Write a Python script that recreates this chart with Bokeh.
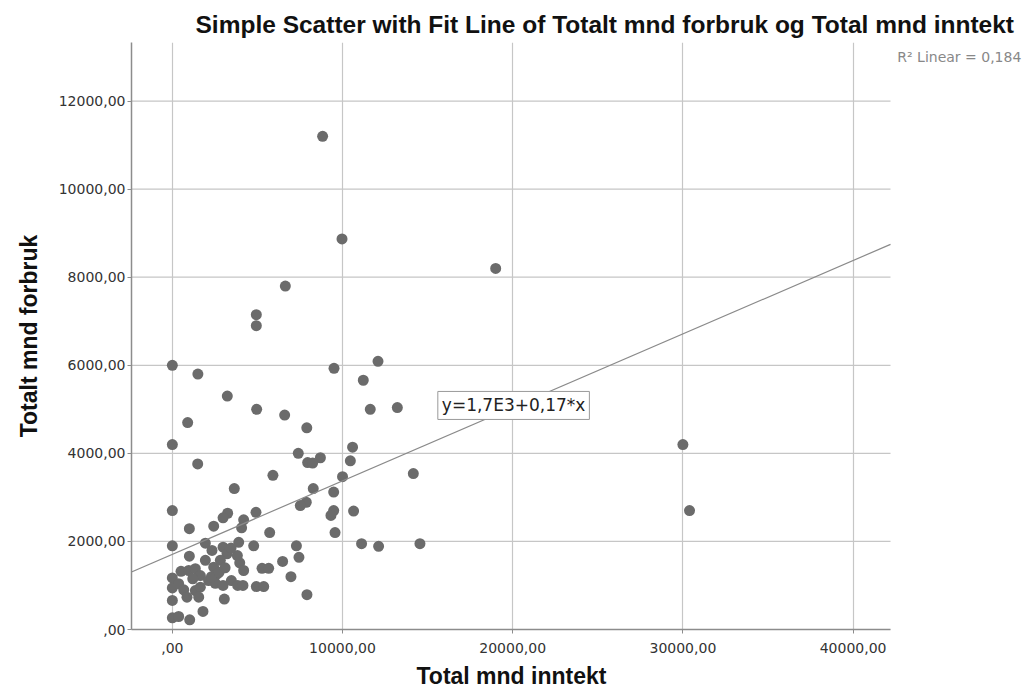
from bokeh.plotting import figure
from bokeh.models import Range1d, FixedTicker, Label, ColumnDataSource, Title
from bokeh.embed import file_html
from bokeh.resources import INLINE

# Total mnd inntekt (x) and Totalt mnd forbruk (y)
income = [8830, 9970, 19000, 6640, 4935, 4935, 0, 12085, 9500, 1500,
          11220, 3230, 4955, 11630, 13220, 6600, 900, 7900, 0, 30000,
          10590, 7400, 8700, 7950, 8245, 10460, 1490, 14160, 5910, 10000,
          3640, 8280, 9480, 7870, 7520, 0, 30390, 10650, 9480, 9320,
          4915, 3250, 2980, 4190, 4070, 2430, 1000, 9560, 5720, 11120,
          12120, 14550, 7290, 0, 1940, 2330, 2980, 3210, 3900, 4780,
          1000, 7440, 1940, 2430, 2820, 3960, 4190, 5270, 5660, 6480,
          6970, 7910, 510, 960, 1350, 0, 1645, 2130, 2525, 2980,
          3470, 3840, 4150, 4935, 5370, 0, 370, 670, 860, 1350,
          1645, 0, 1550, 3055, 1800, 0, 370, 1020, 2600, 2300,
          3820, 3450, 2750, 1200, 3100]
spend = [11200, 8870, 8200, 7800, 7150, 6900, 6000, 6090, 5930, 5800,
         5660, 5300, 5000, 5000, 5040, 4870, 4700, 4580, 4200, 4200,
         4140, 4000, 3900, 3790, 3780, 3830, 3760, 3540, 3500, 3470,
         3200, 3200, 3120, 2890, 2815, 2700, 2700, 2690, 2700, 2590,
         2660, 2640, 2535, 2490, 2310, 2345, 2290, 2200, 2200, 1950,
         1890, 1950, 1900, 1900, 1960, 1795, 1870, 1720, 1980, 1900,
         1665, 1640, 1570, 1415, 1570, 1515, 1340, 1390, 1390, 1545,
         1200, 790, 1320, 1340, 1380, 1170, 1225, 1110, 1050, 1000,
         1110, 1000, 1000, 975, 975, 945, 1040, 900, 735, 885,
         960, 660, 735, 690, 410, 265, 295, 220, 1250, 1200,
         1680, 1850, 1300, 1150, 1400]

x_ticks = [0, 10000, 20000, 30000, 40000]
x_tick_labels = [",00", "10000,00", "20000,00", "30000,00", "40000,00"]
y_ticks = [0, 2000, 4000, 6000, 8000, 10000, 12000]
y_tick_labels = [",00", "2000,00", "4000,00", "6000,00", "8000,00", "10000,00", "12000,00"]

fit_intercept = 1707
fit_slope = 0.1668
fit_text = "y=1,7E3+0,17*x"
r2_text = "R\u00b2 Linear = 0,184"
title_text = "Simple Scatter with Fit Line of Totalt mnd forbruk og Total mnd inntekt"
x_title = "Total mnd inntekt"
y_title = "Totalt mnd forbruk"

X_MIN, X_MAX = -2400, 42200          # extent of the plotted area
X_CANVAS_MAX = 50485                 # canvas continues to the right for the R² note
Y_MIN, Y_MAX = 0, 13330

p = figure(width=1031, height=696, output_backend="svg", toolbar_location=None,
           x_range=Range1d(X_MIN, X_CANVAS_MAX), y_range=Range1d(Y_MIN, Y_MAX),
           min_border_left=131, min_border_right=0, min_border_top=42,
           min_border_bottom=67)
p.outline_line_color = None
p.background_fill_color = "white"
p.border_fill_color = "white"

BOLD_FONT = "Liberation Sans"
p.title.text = title_text
p.title.text_font = BOLD_FONT
p.title.text_font_size = "24.5px"
p.title.text_font_style = "bold"
p.title.text_color = "#111111"
p.title.align = "left"
p.title.offset = 64

for ax in (p.xaxis[0], p.yaxis[0]):
    ax.axis_line_color = "#8c8c8c"
    ax.axis_line_width = 1.5
    ax.major_tick_line_color = "#8c8c8c"
    ax.major_tick_out = 4
    ax.major_tick_in = 0
    ax.minor_tick_line_color = None
    ax.major_label_text_font = "DejaVu Sans"
    ax.major_label_text_font_size = "14px"
    ax.major_label_text_color = "#333333"

p.xaxis[0].ticker = FixedTicker(ticks=x_ticks)
p.xaxis[0].major_label_overrides = dict(zip(x_ticks, x_tick_labels))
p.xaxis[0].major_label_standoff = 9
p.xaxis[0].bounds = (X_MIN, X_MAX)

p.yaxis[0].ticker = FixedTicker(ticks=y_ticks)
p.yaxis[0].major_label_overrides = dict(zip(y_ticks, y_tick_labels))
p.yaxis[0].axis_label = y_title
p.yaxis[0].major_label_standoff = 2
p.yaxis[0].axis_label_standoff = 14
p.yaxis[0].axis_label_text_font = BOLD_FONT
p.yaxis[0].axis_label_text_font_size = "23px"
p.yaxis[0].axis_label_text_font_style = "bold"
p.yaxis[0].axis_label_text_color = "#111111"

# x axis title centred under the plotted area (not under the whole canvas)
p.add_layout(Title(text=x_title, text_font=BOLD_FONT, text_font_size="23px",
                   text_font_style="bold", text_color="#111111",
                   align="left", offset=285, standoff=10), "below")

# vertical grid lines from the built-in grid, horizontal ones limited to the plot area
p.xgrid[0].ticker = FixedTicker(ticks=x_ticks)
p.xgrid[0].grid_line_color = "#c6c6c6"
p.xgrid[0].grid_line_width = 1.2
p.ygrid[0].grid_line_color = None
p.segment(x0=[X_MIN] * len(y_ticks), x1=[X_MAX] * len(y_ticks), y0=y_ticks, y1=y_ticks,
          line_color="#c6c6c6", line_width=1.2, level="underlay")

src = ColumnDataSource(dict(x=income, y=spend))
p.scatter("x", "y", source=src, size=11, fill_color="#6b6b6b", line_color=None)

fit_x = [X_MIN, X_MAX]
fit_y = [fit_intercept + fit_slope * v for v in fit_x]
p.line(fit_x, fit_y, line_color="#8a8a8a", line_width=1.2)

p.add_layout(Label(x=15600, y=4770, text=fit_text, text_font="DejaVu Sans",
                   text_font_size="17px", text_color="#222222",
                   text_align="left", text_baseline="bottom",
                   border_line_color="#999999", background_fill_color="white",
                   padding=4))
p.add_layout(Label(x=42600, y=12990, text=r2_text, text_font="DejaVu Sans",
                   text_font_size="14px", text_color="#888888",
                   text_align="left", text_baseline="middle"))

open("out.html", "w").write(file_html(p, INLINE))
